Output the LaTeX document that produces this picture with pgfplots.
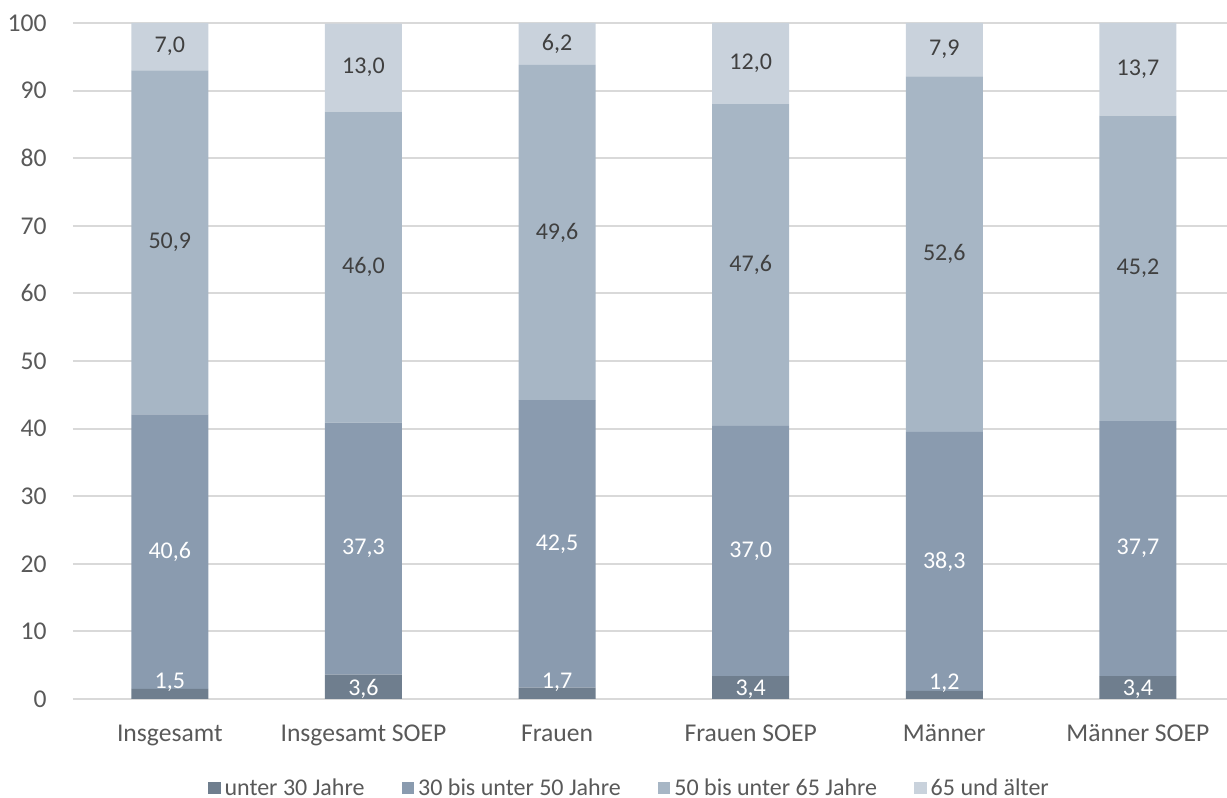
\documentclass[border=0pt]{standalone}
\usepackage{fontspec}
\setmainfont{Carlito}
\usepackage{pgfplots}
\usepackage{pgfplotstable}
\pgfplotsset{compat=1.18}

\definecolor{cA}{HTML}{6F7E8E}
\definecolor{cB}{HTML}{8A9BAF}
\definecolor{cC}{HTML}{A7B6C5}
\definecolor{cD}{HTML}{C9D2DC}
\definecolor{gridc}{HTML}{D9D9D9}
\definecolor{txt}{HTML}{595959}
\definecolor{lbl}{HTML}{404040}

% Anteile der Altersgruppen in Prozent
\pgfplotstableread{
x a b c d
0 1.5 40.6 50.9 7.0
1 3.6 37.3 46.0 13.0
2 1.7 42.5 49.6 6.2
3 3.4 37.0 47.6 12.0
4 1.2 38.3 52.6 7.9
5 3.4 37.7 45.2 13.7
}\data

\pgfplotsset{
  frame/.style={
    at={(36.5pt,49.5pt)}, anchor=south west,
    scale only axis,
    width=577pt, height=338pt,
    xmin=-0.5, xmax=5.46,
    ymin=0, ymax=100,
  },
  seglabel/.style={
    draw=none, mark=none,
    nodes near coords={\pgfmathprintnumber[fixed,fixed zerofill,precision=1,use comma]{\pgfplotspointmeta}},
    every node near coord/.append style={font=\fontsize{12}{14}\selectfont, anchor=center, inner sep=0pt, text=#1},
  },
}

\begin{document}
\begin{tikzpicture}[x=1pt,y=1pt]
\path[use as bounding box] (0,0) rectangle (613.5,399);
% stacked bars
\begin{axis}[
  frame,
  ybar stacked,
  bar width=38.5pt,
  ytick={0,10,...,100},
  xtick={0,...,5},
  xticklabels={Insgesamt,Insgesamt SOEP,Frauen,Frauen SOEP,Männer,Männer SOEP},
  /pgf/number format/assume math mode=true,
  ymajorgrids,
  grid style={gridc, line width=1pt},
  axis x line*=bottom,
  axis y line*=left,
  y axis line style={draw=none},
  x axis line style={gridc, line width=1pt, -},
  major tick length=0pt,
  tick style={draw=none},
  tick label style={font=\fontsize{12.8}{14}\selectfont, text=txt, inner sep=0pt},
  yticklabel style={anchor=east, xshift=-13pt},
  xticklabel style={anchor=base, yshift=-21.3pt},
  legend columns=4,
  legend style={at={(0.483,-0.133)}, anchor=center, draw=none, fill=none,
    font=\fontsize{12}{14}\selectfont, text=txt,
    /tikz/every even column/.append style={column sep=16.5pt}},
  legend image code/.code={\fill[#1] (0pt,-2.6pt) rectangle (6.3pt,3.7pt);},
]
\addplot[fill=cA, draw=none] table[x=x, y=a] {\data};
\addplot[fill=cB, draw=none] table[x=x, y=b] {\data};
\addplot[fill=cC, draw=none] table[x=x, y=c] {\data};
\addplot[fill=cD, draw=none] table[x=x, y=d] {\data};
\legend{unter 30 Jahre, 30 bis unter 50 Jahre, 50 bis unter 65 Jahre, 65 und älter}
\end{axis}
% value labels in the middle of each segment
\begin{axis}[
  frame,
  hide axis,
  point meta=explicit,
  /pgf/number format/assume math mode=true,
]
\addplot[seglabel=white] table[x=x, y expr={\thisrow{a}<2.5 ? 2.4 : 1.5}, meta=a] {\data};
\addplot[seglabel=white] table[x=x, y expr={\thisrow{a}+0.5*\thisrow{b}}, meta=b] {\data};
\addplot[seglabel=lbl] table[x=x, y expr={\thisrow{a}+\thisrow{b}+0.5*\thisrow{c}}, meta=c] {\data};
\addplot[seglabel=lbl] table[x=x, y expr={\thisrow{a}+\thisrow{b}+\thisrow{c}+0.5*\thisrow{d}}, meta=d] {\data};
\end{axis}
\end{tikzpicture}
\end{document}
